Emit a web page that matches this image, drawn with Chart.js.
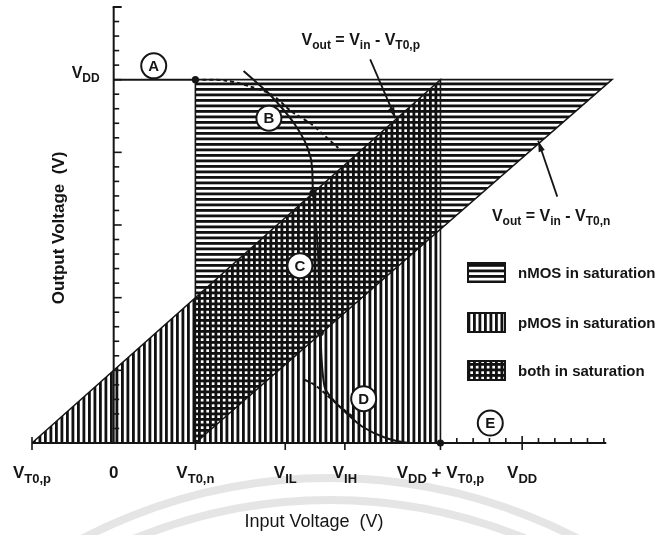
<!DOCTYPE html>
<html>
<head>
<meta charset="utf-8">
<script src="https://cdn.jsdelivr.net/npm/chart.js@4.4.1/dist/chart.umd.min.js"></script>
<style>
  html, body { margin: 0; padding: 0; background: #fff; }
  canvas { display: block; }
</style>
</head>
<body>
<canvas id="vtc" width="661" height="535"></canvas>
<script>
// ---- Voltages (V) ----
const VDD = 5;
const VT0_N = 1;
const VT0_P = -1;

// ---- Saturation regions (closed polygons, Vin / Vout) ----
const nmosRegionVin  = [1, 1, 6.1, 1];
const nmosRegionVout = [0, 5, 5, 0];
const pmosRegionVin  = [-1, 4, 4, -1];
const pmosRegionVout = [0, 5, 0, 0];

// ---- Transfer characteristic ----
const regionAVin  = [0, 1];
const regionAVout = [5, 5];
const vtcVin  = [1.59, 1.75, 1.89, 2.06, 2.22, 2.34, 2.41, 2.43, 2.44, 2.50, 2.53, 2.58, 2.69, 2.85, 3.05, 3.34, 3.59, 4.0];
const vtcVout = [5.12, 4.96, 4.82, 4.61, 4.38, 4.15, 3.93, 3.76, 3.44, 2.66, 1.52, 0.78, 0.59, 0.41, 0.22, 0.065, 0.005, 0];
const upperDashVin  = [1.0, 1.36, 1.69, 1.94, 2.18, 2.43, 2.59, 2.75];
const upperDashVout = [5.0, 4.99, 4.90, 4.79, 4.56, 4.38, 4.22, 4.06];
const lowerDashVin  = [2.34, 2.46, 2.61, 2.77, 2.93];
const lowerDashVout = [0.87, 0.80, 0.66, 0.50, 0.36];
const boundaryDotVin  = [1, 2.44, 2.53, 4];
const boundaryDotVout = [5, 3.44, 1.52, 0];

// ---- Operating-region markers ----
const regionNames = ['A', 'B', 'C', 'D', 'E'];
const regionNameVin  = [0.49, 1.90, 2.28, 3.06, 4.61];
const regionNameVout = [5.19, 4.47, 2.44, 0.61, 0.275];

// ---- Input-voltage tick marks ----
const xTickValues = [-1, 0, 1, 2.1, 2.83, 4, 5];
const xTickLabels = [
  [['V'], ['T0,p', 1]],
  [['0']],
  [['V'], ['T0,n', 1]],
  [['V'], ['IL', 1]],
  [['V'], ['IH', 1]],
  [['V'], ['DD', 1], [' + V'], ['T0,p', 1]],
  [['V'], ['DD', 1]]
];
const yTickLabel = [['V'], ['DD', 1]];

// ---- Boundary equations with pointer arrows ----
const eqPTextAt = [2.30, 5.48];
const eqPArrow  = [[3.14, 5.28], [3.45, 4.47]];
const eqPText   = [['V'], ['out', 1], [' = V'], ['in', 1], [' - V'], ['T0,p', 1]];
const eqNTextAt = [4.63, 3.06];
const eqNArrow  = [[5.43, 3.39], [5.196, 4.16]];
const eqNText   = [['V'], ['out', 1], [' = V'], ['in', 1], [' - V'], ['T0,n', 1]];

const legendLabels = ['nMOS in saturation', 'pMOS in saturation', 'both in saturation'];

const FONT = '"Liberation Sans", Arial, Helvetica, sans-serif';
const INK = '#151515';

const pts = (xs, ys) => xs.map((x, i) => ({ x, y: ys[i] }));

const canvas = document.getElementById('vtc');
const ctx2d = canvas.getContext('2d');

// Line hatching; transparent gaps so overlapping regions cross-hatch.
function hatch(dir) {
  const tile = document.createElement('canvas');
  const period = 5.5, thick = 2.8;
  if (dir === 'h') { tile.width = 4; tile.height = 11; } else { tile.width = 11; tile.height = 4; }
  const g = tile.getContext('2d');
  g.fillStyle = '#111';
  for (let k = 0; k < 2; k++) {
    if (dir === 'h') g.fillRect(0, k * period, 4, thick);
    else g.fillRect(k * period, 0, thick, 4);
  }
  return ctx2d.createPattern(tile, 'repeat');
}
const hPattern = hatch('h');
const vPattern = hatch('v');

function richText(ctx, segs, x, y, size, subSize, align, weight) {
  const w8 = weight || 'bold';
  const fMain = `${w8} ${size}px ${FONT}`;
  const fSub = `${w8} ${subSize}px ${FONT}`;
  let total = 0;
  segs.forEach(s => { ctx.font = s[1] ? fSub : fMain; total += ctx.measureText(s[0]).width; });
  let cx = align === 'center' ? x - total / 2 : align === 'right' ? x - total : x;
  ctx.textAlign = 'left';
  ctx.textBaseline = 'alphabetic';
  segs.forEach(s => {
    ctx.font = s[1] ? fSub : fMain;
    ctx.fillText(s[0], cx, s[1] ? y + size * 0.28 : y);
    cx += ctx.measureText(s[0]).width;
  });
}

function line(ctx, x1, y1, x2, y2) {
  ctx.beginPath(); ctx.moveTo(x1, y1); ctx.lineTo(x2, y2); ctx.stroke();
}

function arrow(ctx, x1, y1, x2, y2) {
  line(ctx, x1, y1, x2, y2);
  const a = Math.atan2(y2 - y1, x2 - x1), L = 11, W = 3.2;
  ctx.beginPath();
  ctx.moveTo(x2, y2);
  ctx.lineTo(x2 - L * Math.cos(a) + W * Math.sin(a), y2 - L * Math.sin(a) - W * Math.cos(a));
  ctx.lineTo(x2 - L * Math.cos(a) - W * Math.sin(a), y2 - L * Math.sin(a) + W * Math.cos(a));
  ctx.closePath();
  ctx.fill();
}

const figurePlugin = {
  id: 'figure',
  beforeDraw(chart) {
    const ctx = chart.ctx;
    ctx.save();
    ctx.fillStyle = '#fff';
    ctx.fillRect(0, 0, chart.width, chart.height);
    // faint seal arcs along the bottom of the page
    ctx.strokeStyle = '#e5e5e5';
    ctx.lineWidth = 8;
    [537, 515].forEach(r => { ctx.beginPath(); ctx.arc(330, 1015, r, Math.PI, 2 * Math.PI); ctx.stroke(); });
    ctx.restore();
  },
  afterDatasetsDraw(chart) {
    const ctx = chart.ctx;
    const xs = chart.scales.x, ys = chart.scales.y;
    const X = v => xs.getPixelForValue(v);
    const Y = v => ys.getPixelForValue(v);
    ctx.save();
    ctx.strokeStyle = INK;
    ctx.fillStyle = INK;
    ctx.lineCap = 'butt';

    // Output-voltage axis
    ctx.lineWidth = 2;
    line(ctx, X(0), Y(0), X(0), Y(6));
    line(ctx, X(0) - 1, Y(6), X(0) + 8, Y(6));
    ctx.lineWidth = 1.6;
    for (let i = 1; i < 30; i++) {
      const len = i % 5 === 0 ? 8 : 5.5;
      line(ctx, X(0), Y(i * 0.2), X(0) + len, Y(i * 0.2));
    }

    // Input-voltage axis
    ctx.lineWidth = 2;
    line(ctx, X(-1), Y(0), X(6.03), Y(0));
    ctx.lineWidth = 1.6;
    xTickValues.forEach(v => {
      if (v === 0) return;
      line(ctx, X(v), Y(0), X(v), Y(0) + 7);
    });
    line(ctx, X(-1), Y(0) - 6, X(-1), Y(0));
    for (let i = 21; i <= 30; i++) {
      const v = i * 0.2;
      line(ctx, X(v), Y(0), X(v), Y(0) - (i === 25 ? 7 : 5));
    }

    // Tick labels
    xTickValues.forEach((v, i) => {
      richText(ctx, xTickLabels[i], X(v), Y(0) + 35, 17, 13, 'center');
    });
    richText(ctx, yTickLabel, X(0) - 14, Y(VDD) - 2, 16, 12, 'right');

    // Boundary equations
    ctx.lineWidth = 1.8;
    richText(ctx, eqPText, X(eqPTextAt[0]), Y(eqPTextAt[1]), 16, 12, 'left');
    arrow(ctx, X(eqPArrow[0][0]), Y(eqPArrow[0][1]), X(eqPArrow[1][0]), Y(eqPArrow[1][1]));
    richText(ctx, eqNText, X(eqNTextAt[0]), Y(eqNTextAt[1]), 16, 12, 'left');
    arrow(ctx, X(eqNArrow[0][0]), Y(eqNArrow[0][1]), X(eqNArrow[1][0]), Y(eqNArrow[1][1]));

    // Region markers
    regionNames.forEach((n, i) => {
      const cx = X(regionNameVin[i]), cy = Y(regionNameVout[i]);
      ctx.beginPath();
      ctx.arc(cx, cy, 12.5, 0, 2 * Math.PI);
      ctx.fillStyle = '#fff';
      ctx.fill();
      ctx.lineWidth = 2;
      ctx.stroke();
      ctx.fillStyle = INK;
      ctx.font = `bold 15px ${FONT}`;
      ctx.textAlign = 'center';
      ctx.textBaseline = 'middle';
      ctx.fillText(n, cx, cy + 1);
    });

    // Legend
    const fills = [[hPattern], [vPattern], [hPattern, vPattern]];
    const boxTop = [263, 313, 361];
    boxTop.forEach((top, i) => {
      fills[i].forEach(p => { ctx.fillStyle = p; ctx.fillRect(468, top, 37, 19); });
      ctx.lineWidth = 2;
      ctx.strokeRect(468, top, 37, 19);
      ctx.fillStyle = INK;
      ctx.font = `bold 15px ${FONT}`;
      ctx.textAlign = 'left';
      ctx.textBaseline = 'middle';
      ctx.fillText(legendLabels[i], 518, top + 10.5);
    });

    // Axis titles
    ctx.font = `18px ${FONT}`;
    ctx.textAlign = 'center';
    ctx.textBaseline = 'middle';
    ctx.fillText('Input Voltage  (V)', 314, 522);
    ctx.save();
    ctx.translate(59, 228);
    ctx.rotate(-Math.PI / 2);
    ctx.font = `bold 17px ${FONT}`;
    ctx.fillText('Output Voltage  (V)', 0, 0);
    ctx.restore();

    ctx.restore();
  }
};

const region = (data, pattern, order) => ({
  data, showLine: true, fill: 'shape', backgroundColor: pattern,
  borderColor: INK, borderWidth: 1.6, pointRadius: 0, tension: 0, order, clip: false
});
const curve = (data, dash, order) => ({
  data, showLine: true, fill: false, borderColor: INK, borderWidth: 2,
  borderDash: dash || [], pointRadius: 0, tension: 0.3, order, clip: false
});

new Chart(canvas, {
  type: 'scatter',
  data: {
    datasets: [
      region(pts(nmosRegionVin, nmosRegionVout), hPattern, 10),
      region(pts(pmosRegionVin, pmosRegionVout), vPattern, 9),
      curve(pts(regionAVin, regionAVout), null, 5),
      curve(pts(vtcVin, vtcVout), null, 4),
      curve(pts(upperDashVin, upperDashVout), [4, 3], 3),
      curve(pts(lowerDashVin, lowerDashVout), [4, 3], 3),
      {
        data: pts(boundaryDotVin, boundaryDotVout), showLine: false,
        pointRadius: 3.6, pointBackgroundColor: INK, pointBorderWidth: 0, order: 1, clip: false
      }
    ]
  },
  options: {
    responsive: false,
    animation: false,
    events: [],
    layout: { padding: { left: 32, right: 49, top: 7, bottom: 92 } },
    plugins: { legend: { display: false }, tooltip: { enabled: false } },
    scales: {
      x: { type: 'linear', min: -1, max: 6.1, display: false },
      y: { type: 'linear', min: 0, max: 6, display: false }
    }
  },
  plugins: [figurePlugin]
});
</script>
</body>
</html>
